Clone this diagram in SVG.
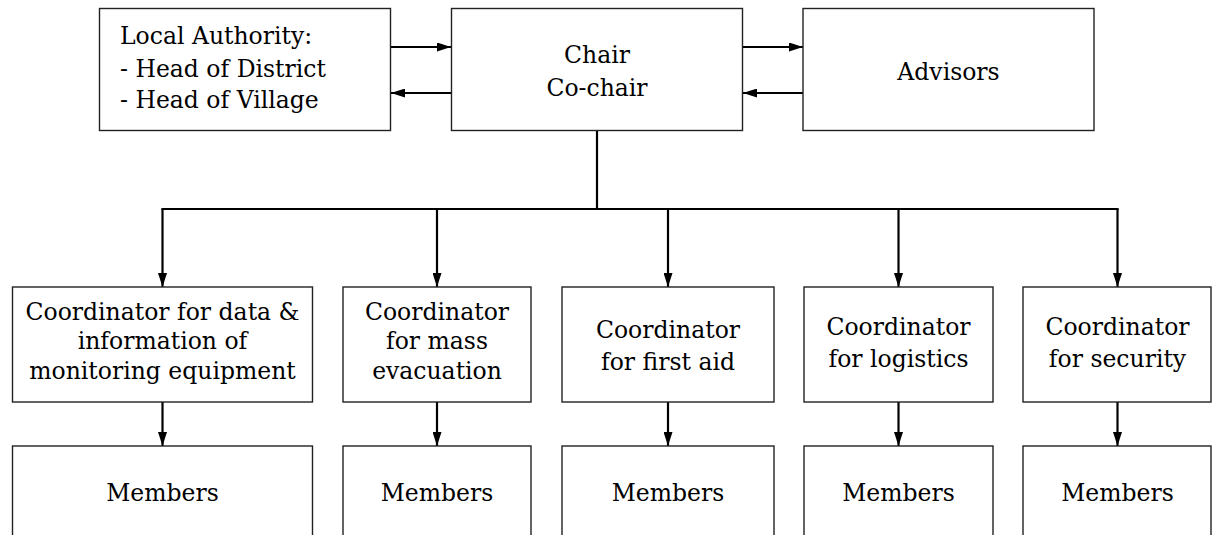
<svg xmlns="http://www.w3.org/2000/svg" width="1213" height="535" viewBox="0 0 1213 535">
<defs>
<marker id="arr" markerWidth="14" markerHeight="9" refX="14" refY="4.5" orient="auto" markerUnits="userSpaceOnUse">
<path d="M0,0 L14,4.5 L0,9 Z" fill="#000"/>
</marker>
<style>
.box{fill:#fff;stroke:#222;stroke-width:1.4}
.t{font-family:"DejaVu Serif","Liberation Serif",serif;font-size:23.5px;fill:#000}
.c{text-anchor:middle}
.ln{fill:none;stroke:#000;stroke-width:2.2}
.bus{stroke-linecap:square}
</style>
</defs>
<rect width="1213" height="535" fill="#fff"/>
<g id="connectors">
<line class="ln" x1="391" y1="47" x2="451" y2="47" marker-end="url(#arr)"/>
<line class="ln" x1="451" y1="93" x2="391" y2="93" marker-end="url(#arr)"/>
<line class="ln" x1="743" y1="47" x2="803" y2="47" marker-end="url(#arr)"/>
<line class="ln" x1="803" y1="93" x2="743" y2="93" marker-end="url(#arr)"/>
<line class="ln" x1="597" y1="131" x2="597" y2="209"/>
<line class="ln bus" x1="162.5" y1="209" x2="1117.5" y2="209"/>
<line class="ln" x1="162.5" y1="209" x2="162.5" y2="287" marker-end="url(#arr)"/>
<line class="ln" x1="437" y1="209" x2="437" y2="287" marker-end="url(#arr)"/>
<line class="ln" x1="668" y1="209" x2="668" y2="287" marker-end="url(#arr)"/>
<line class="ln" x1="898.5" y1="209" x2="898.5" y2="287" marker-end="url(#arr)"/>
<line class="ln" x1="1117.5" y1="209" x2="1117.5" y2="287" marker-end="url(#arr)"/>
<line class="ln" x1="162.5" y1="402" x2="162.5" y2="446" marker-end="url(#arr)"/>
<line class="ln" x1="437" y1="402" x2="437" y2="446" marker-end="url(#arr)"/>
<line class="ln" x1="668" y1="402" x2="668" y2="446" marker-end="url(#arr)"/>
<line class="ln" x1="898.5" y1="402" x2="898.5" y2="446" marker-end="url(#arr)"/>
<line class="ln" x1="1117.5" y1="402" x2="1117.5" y2="446" marker-end="url(#arr)"/>
</g>
<g id="local-authority">
<rect class="box" x="99.5" y="8.5" width="291" height="122"/>
<text class="t" x="120" y="44">Local Authority:</text>
<text class="t" x="120" y="77">- Head of District</text>
<text class="t" x="120" y="108">- Head of Village</text>
</g>
<g id="chair">
<rect class="box" x="451.5" y="8.5" width="291" height="122"/>
<text class="t c" x="597" y="63">Chair</text>
<text class="t c" x="597" y="96">Co-chair</text>
</g>
<g id="advisors">
<rect class="box" x="803" y="8.5" width="291" height="122"/>
<text class="t c" x="948.5" y="80">Advisors</text>
</g>
<g id="coord-data">
<rect class="box" x="12.5" y="287" width="300" height="115"/>
<text class="t c" x="162.5" y="320">Coordinator for data &amp;</text>
<text class="t c" x="162.5" y="349">information of</text>
<text class="t c" x="162.5" y="379">monitoring equipment</text>
</g>
<g id="coord-evac">
<rect class="box" x="343" y="287" width="188" height="115"/>
<text class="t c" x="437" y="320">Coordinator</text>
<text class="t c" x="437" y="349">for mass</text>
<text class="t c" x="437" y="379">evacuation</text>
</g>
<g id="coord-firstaid">
<rect class="box" x="562" y="287" width="212" height="115"/>
<text class="t c" x="668" y="338">Coordinator</text>
<text class="t c" x="668" y="370">for first aid</text>
</g>
<g id="coord-logistics">
<rect class="box" x="804" y="287" width="189" height="115"/>
<text class="t c" x="898.5" y="335">Coordinator</text>
<text class="t c" x="898.5" y="367">for logistics</text>
</g>
<g id="coord-security">
<rect class="box" x="1023" y="287" width="188" height="115"/>
<text class="t c" x="1117.5" y="335">Coordinator</text>
<text class="t c" x="1117.5" y="367">for security</text>
</g>
<g id="members-1">
<rect class="box" x="12.5" y="446" width="300" height="100"/>
<text class="t c" x="162.5" y="501">Members</text>
</g>
<g id="members-2">
<rect class="box" x="343" y="446" width="188" height="100"/>
<text class="t c" x="437" y="501">Members</text>
</g>
<g id="members-3">
<rect class="box" x="562" y="446" width="212" height="100"/>
<text class="t c" x="668" y="501">Members</text>
</g>
<g id="members-4">
<rect class="box" x="804" y="446" width="189" height="100"/>
<text class="t c" x="898.5" y="501">Members</text>
</g>
<g id="members-5">
<rect class="box" x="1023" y="446" width="188" height="100"/>
<text class="t c" x="1117.5" y="501">Members</text>
</g>
</svg>
